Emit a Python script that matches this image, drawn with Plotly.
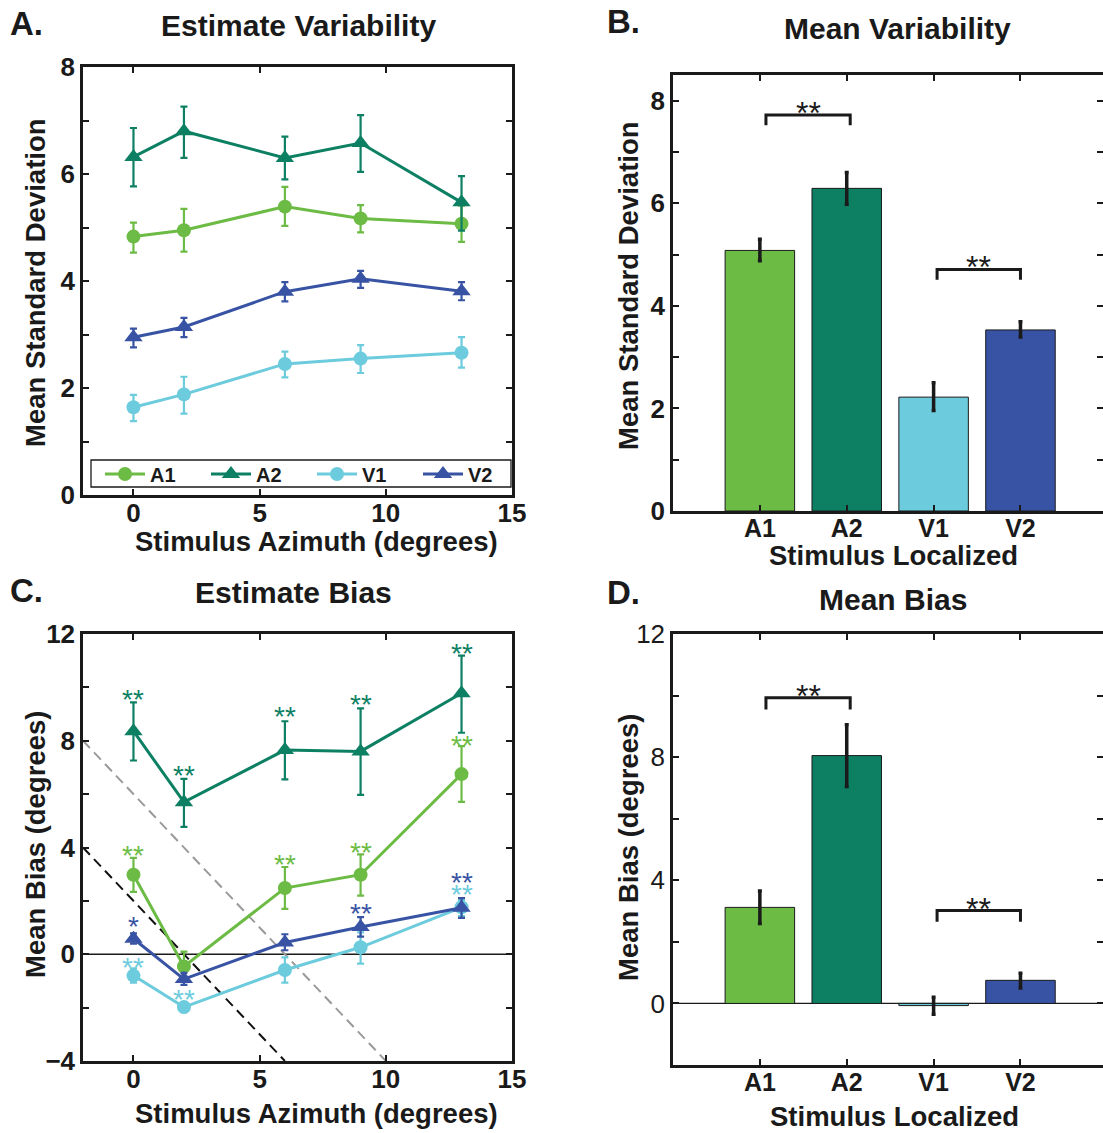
import plotly.graph_objects as go

FONT = "Liberation Sans"
INK = "#1a1a1a"
COLORS = {"A1": "#6cbb45", "A2": "#0d8064", "V1": "#6ccbdc", "V2": "#3853a4"}
SYMBOLS = {"A1": "circle", "A2": "triangle-up", "V1": "circle", "V2": "triangle-up"}

# ---------------- data ----------------
azimuth = [0, 2, 6, 9, 13]
series = ["A1", "A2", "V1", "V2"]

# Panel A: Estimate variability (mean SD, with error-bar bounds)
var_A1 = [4.83, 4.95, 5.39, 5.17, 5.07]
var_A1_hi = [5.09, 5.35, 5.76, 5.42, 5.41]
var_A1_lo = [4.53, 4.55, 5.03, 4.91, 4.73]
var_A2 = [6.32, 6.80, 6.30, 6.58, 5.47]
var_A2_hi = [6.86, 7.26, 6.70, 7.10, 5.96]
var_A2_lo = [5.77, 6.30, 5.90, 6.04, 4.94]
var_V1 = [1.64, 1.88, 2.45, 2.55, 2.66]
var_V1_hi = [1.87, 2.21, 2.68, 2.80, 2.95]
var_V1_lo = [1.38, 1.52, 2.20, 2.28, 2.38]
var_V2 = [2.95, 3.14, 3.80, 4.04, 3.81]
var_V2_hi = [3.11, 3.31, 3.98, 4.19, 3.98]
var_V2_lo = [2.76, 2.95, 3.62, 3.87, 3.64]

# Panel B: Mean variability
mean_var = [5.08, 6.29, 2.22, 3.53]
mean_var_hi = [5.30, 6.60, 2.50, 3.69]
mean_var_lo = [4.88, 5.98, 1.96, 3.39]

# Panel C: Estimate bias
bias_A1 = [2.98, -0.46, 2.48, 2.98, 6.75]
bias_A1_hi = [3.61, 0.10, 3.27, 3.74, 7.80]
bias_A1_lo = [2.34, -1.00, 1.70, 2.20, 5.71]
bias_A2 = [8.36, 5.70, 7.65, 7.60, 9.78]
bias_A2_hi = [9.44, 6.57, 8.73, 9.21, 11.19]
bias_A2_lo = [7.26, 4.77, 6.55, 5.97, 8.30]
bias_V1 = [-0.80, -1.98, -0.59, 0.26, 1.76]
bias_V1_hi = [-0.53, -1.80, -0.12, 0.82, 2.03]
bias_V1_lo = [-1.06, -2.17, -1.06, -0.35, 1.43]
bias_V2 = [0.58, -0.93, 0.44, 1.02, 1.74]
bias_V2_hi = [0.78, -0.70, 0.75, 1.39, 2.10]
bias_V2_lo = [0.40, -1.15, 0.15, 0.66, 1.36]

# significance markers in panel C
star_series = ["A2", "A2", "A2", "A2", "A2", "A1", "A1", "A1", "A1",
               "V2", "V2", "V2", "V1", "V1", "V1"]
star_x = [0, 2, 6, 9, 13, 0, 6, 9, 13, 0, 9, 13, 0, 2, 13]
star_y = [9.78, 6.95, 9.17, 9.60, 11.53, 3.95, 3.61, 4.05, 8.07,
          1.29, 1.76, 2.93, -0.26, -1.47, 2.50]
star_text = ["**", "**", "**", "**", "**", "**", "**", "**", "**",
             "*", "**", "**", "**", "**", "**"]

# reference diagonals in panel C (endpoints)
diag_black_x = [-2, 6]
diag_black_y = [4, -4]
diag_gray_x = [-2, 10]
diag_gray_y = [8, -4]

# Panel D: Mean bias
mean_bias = [3.12, 8.05, -0.07, 0.75]
mean_bias_hi = [3.65, 9.05, 0.20, 0.98]
mean_bias_lo = [2.60, 7.05, -0.35, 0.50]

# significance brackets for bar panels: (left, right, level, leg bottom, star y)
bracketB = [(0.07, 1.04, 7.72, 7.52, 7.90), (2.04, 3.00, 4.71, 4.51, 4.90)]
bracketD = [(0.07, 1.04, 9.93, 9.55, 10.22), (2.04, 3.00, 3.02, 2.65, 3.32)]

# ---------------- figure ----------------
fig = go.Figure()

var_data = {"A1": (var_A1, var_A1_hi, var_A1_lo), "A2": (var_A2, var_A2_hi, var_A2_lo),
            "V1": (var_V1, var_V1_hi, var_V1_lo), "V2": (var_V2, var_V2_hi, var_V2_lo)}
bias_data = {"A1": (bias_A1, bias_A1_hi, bias_A1_lo), "A2": (bias_A2, bias_A2_hi, bias_A2_lo),
             "V1": (bias_V1, bias_V1_hi, bias_V1_lo), "V2": (bias_V2, bias_V2_hi, bias_V2_lo)}


def line_trace(name, vals, hi, lo, xa, ya, show):
    return go.Scatter(
        x=azimuth, y=vals, name=name, mode="lines+markers",
        xaxis=xa, yaxis=ya, showlegend=show,
        line=dict(color=COLORS[name], width=3),
        marker=dict(symbol=SYMBOLS[name], size=16 if "triangle" in SYMBOLS[name] else 14,
                    color=COLORS[name]),
        error_y=dict(type="data", symmetric=False,
                     array=[h - v for h, v in zip(hi, vals)],
                     arrayminus=[v - l for l, v in zip(lo, vals)],
                     color=COLORS[name], thickness=2.2, width=3.5),
    )


for s in series:
    v, h, l = var_data[s]
    fig.add_trace(line_trace(s, v, h, l, "x", "y", True))

# panel C: diagonals first
fig.add_trace(go.Scatter(x=diag_black_x, y=diag_black_y, mode="lines", xaxis="x3", yaxis="y3",
                         showlegend=False, line=dict(color="#111111", width=2, dash="10px,6px")))
fig.add_trace(go.Scatter(x=diag_gray_x, y=diag_gray_y, mode="lines", xaxis="x3", yaxis="y3",
                         showlegend=False, line=dict(color="#9a9a9a", width=2, dash="10px,6px")))
for s in ["A2", "A1", "V1", "V2"]:
    v, h, l = bias_data[s]
    fig.add_trace(line_trace(s, v, h, l, "x3", "y3", False))


def bar_trace(vals, hi, lo, xa, ya):
    return go.Bar(
        x=series, y=vals, xaxis=xa, yaxis=ya, width=0.8, showlegend=False,
        marker=dict(color=[COLORS[s] for s in series], line=dict(color=INK, width=1)),
        error_y=dict(type="data", symmetric=False,
                     array=[h - v for h, v in zip(hi, vals)],
                     arrayminus=[v - l for l, v in zip(lo, vals)],
                     color=INK, thickness=3.5, width=2),
    )


fig.add_trace(bar_trace(mean_var, mean_var_hi, mean_var_lo, "x2", "y2"))
fig.add_trace(bar_trace(mean_bias, mean_bias_hi, mean_bias_lo, "x4", "y4"))

# ---------------- axes ----------------
W, H = 1103, 1133


def px(x):
    return x / W


def py(y):
    return 1 - y / H


TICK = 26
tickfont = dict(family=FONT, size=TICK, color=INK, weight="bold")
base = dict(showline=True, linecolor=INK, linewidth=2.5, mirror="ticks", ticks="inside",
            ticklen=6, tickwidth=2, tickcolor=INK, showgrid=False, zeroline=False,
            tickfont=tickfont, automargin=False)
xbase = dict(base, ticklabelstandoff=-7)


def labels(vals, every):
    return [str(v) if v % every == 0 else "" for v in vals]


yA_ticks = list(range(0, 9))
yB_ticks = list(range(0, 9))
yC_ticks = list(range(-4, 13, 2))
yD_ticks = list(range(-2, 13, 2))
x_ticks = [0, 5, 10, 15]

fig.update_layout(
    width=W, height=H, margin=dict(l=0, r=0, t=0, b=0, autoexpand=False),
    paper_bgcolor="white", plot_bgcolor="white",
    font=dict(family=FONT, color=INK),
    xaxis=dict(xbase, domain=[px(83), px(512)], range=[-2, 15], tickvals=x_ticks,
               anchor="y"),
    yaxis=dict(base, domain=[py(495), py(67)], range=[0, 8], tickvals=yA_ticks,
               ticktext=labels(yA_ticks, 2), anchor="x"),
    xaxis2=dict(xbase, domain=[px(673), 1.0], range=[-1, 3.95], anchor="y2",
                type="category", tickfont=dict(tickfont, size=25)),
    yaxis2=dict(base, domain=[py(511), py(75)], range=[0, 8.5], tickvals=yB_ticks,
                ticktext=labels(yB_ticks, 2), anchor="x2"),
    xaxis3=dict(xbase, domain=[px(83), px(512)], range=[-2, 15], tickvals=x_ticks,
                anchor="y3"),
    yaxis3=dict(base, domain=[py(1061), py(634)], range=[-4, 12], tickvals=yC_ticks,
                ticktext=[("\u22124" if v == -4 else str(v)) if v % 4 == 0 else "" for v in yC_ticks],
                anchor="x3"),
    xaxis4=dict(xbase, domain=[px(673), 1.0], range=[-1, 3.95], anchor="y4",
                type="category", tickfont=dict(tickfont, size=25)),
    yaxis4=dict(base, domain=[py(1065), py(634)], range=[-2, 12], tickvals=yD_ticks,
                ticktext=labels(yD_ticks, 4), anchor="x4",
                tickfont=dict(family=FONT, size=TICK, color=INK)),
    legend=dict(orientation="h", x=px(100), y=py(474), xanchor="left", yanchor="middle",
                borderwidth=0, bgcolor="rgba(0,0,0,0)",
                font=dict(family=FONT, size=20, color=INK, weight="bold"),
                entrywidth=51, itemwidth=40, tracegroupgap=0),
    bargap=0.2,
)

# ---------------- shapes ----------------
shapes = []
# legend frame in panel A
shapes.append(dict(type="rect", xref="paper", yref="paper", x0=px(91), x1=px(511),
                   y0=py(487), y1=py(460), line=dict(color=INK, width=1.3),
                   fillcolor="white", layer="below"))
for xa, ya in [("x3", "y3"), ("x4", "y4")]:
    shapes.append(dict(type="line", xref=f"{xa} domain", yref=ya, x0=0, x1=1, y0=0, y1=0,
                       line=dict(color=INK, width=1.5 if xa == "x3" else 1.2), layer="below"))

for xa, ya, brs in [("x2", "y2", bracketB), ("x4", "y4", bracketD)]:
    for (l, r, lev, bot, sy) in brs:
        shapes.append(dict(type="path", xref=xa, yref=ya,
                           path=f"M {l},{bot} L {l},{lev} L {r},{lev} L {r},{bot}",
                           line=dict(color=INK, width=3)))
fig.update_layout(shapes=shapes)

# ---------------- annotations ----------------
ann = []


def text(x, y, t, size, bold=True, angle=0, xanchor="center", color=INK):
    ann.append(dict(x=x, y=y, xref="paper", yref="paper", text=t, showarrow=False,
                    xanchor=xanchor, yanchor="middle", textangle=angle,
                    font=dict(family=FONT, size=size, color=color,
                              weight="bold" if bold else "normal")))


TITLE = 30
AXT = 27.5
# panel letters
text(px(8), py(24), "A.", 33, xanchor="left")
text(px(605), py(22), "B.", 33, xanchor="left")
text(px(8), py(590), "C.", 33, xanchor="left")
text(px(605), py(592), "D.", 33, xanchor="left")
# titles
text(px(298), py(26), "Estimate Variability", TITLE)
text(px(897), py(28), "Mean Variability", TITLE)
text(px(293), py(592), "Estimate Bias", TITLE)
text(px(893), py(599), "Mean Bias", TITLE)
# axis titles
text(px(316), py(541), "Stimulus Azimuth (degrees)", AXT)
text(px(316), py(1113), "Stimulus Azimuth (degrees)", AXT)
text(px(893), py(555), "Stimulus Localized", AXT)
text(px(894), py(1116), "Stimulus Localized", AXT)
text(px(35), py(283), "Mean Standard Deviation", AXT, angle=-90)
text(px(35), py(845), "Mean Bias (degrees)", AXT, angle=-90)
text(px(628), py(286), "Mean Standard Deviation", AXT, angle=-90)
text(px(628), py(848), "Mean Bias (degrees)", AXT, angle=-90)

# stars in panel C
for s, x, y, t in zip(star_series, star_x, star_y, star_text):
    ann.append(dict(x=x, y=y, xref="x3", yref="y3", text=t, showarrow=False,
                    xanchor="center", yanchor="middle", yshift=-6.5,
                    font=dict(family=FONT, size=28, color=COLORS[s])))
# stars for bar brackets
for xa, ya, brs in [("x2", "y2", bracketB), ("x4", "y4", bracketD)]:
    for (l, r, lev, bot, sy) in brs:
        ann.append(dict(x=(l + r) / 2, y=sy, xref=xa, yref=ya, text="**", showarrow=False,
                        xanchor="center", yanchor="middle", yshift=-7.5,
                        font=dict(family=FONT, size=32, color=INK)))

fig.update_layout(annotations=ann)

fig.write_html("out.html")
